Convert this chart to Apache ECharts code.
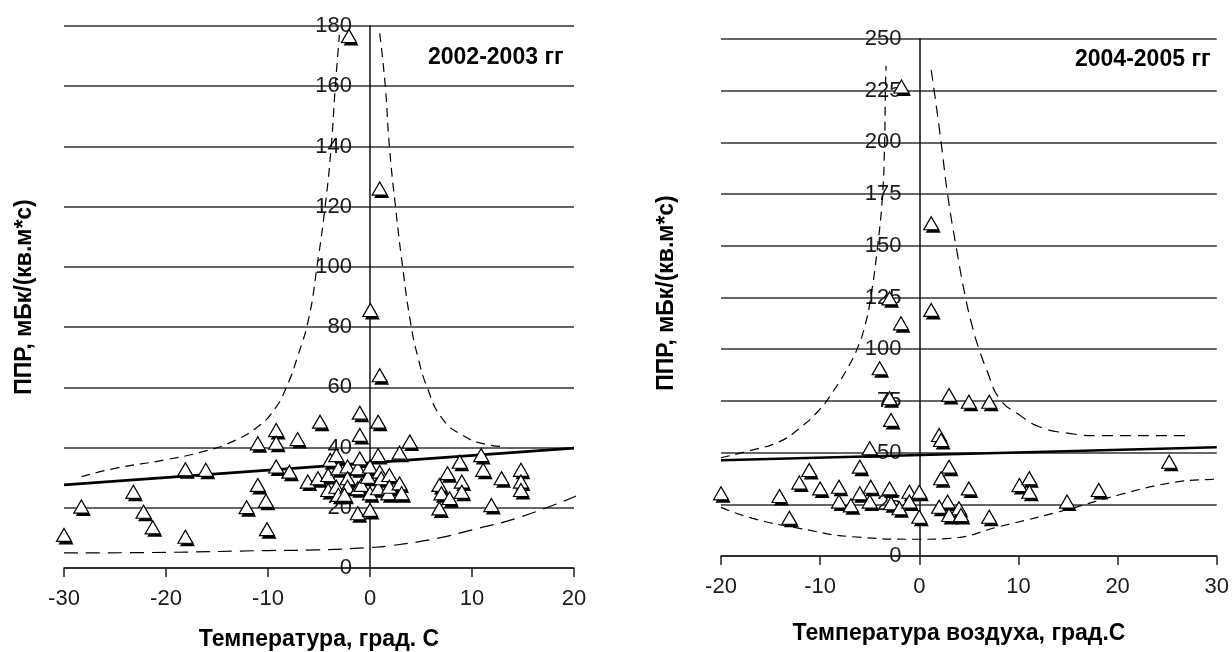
<!DOCTYPE html>
<html>
<head>
<meta charset="utf-8">
<script src="https://cdn.jsdelivr.net/npm/echarts@6/dist/echarts.min.js"></script>
<style>
  html, body { margin: 0; padding: 0; background: #fff; }
  #chart { width: 1232px; height: 652px; }
</style>
</head>
<body>
<div id="chart"></div>
<script>
// ---- 2002-2003: temperature (°C) and radon flux density (mBq/(m2*s)) ----
const temp0203 = [
  -30, -28.3, -23.2, -22.2, -21.3, -18.1, -18.1, -16.1, -12.1, -11, -11, -10.2, -10.1,
  -9.2, -9.2, -9.2, -7.9, -7.1, -6.1, -5.1, -4.9,
  -4.1, -4.1, -3.9, -3.3, -3.1, -3.3, -3.1, -2.2, -2.2, -2.2, -2.5, -2.06,
  -1.2, -1.0, -1.2, -1.2, -1.0, -1.0, -0.85, -0.2, 0, 0, 0, 0.03,
  0.8, 0.8, 0.95, 0.8, 1.1, 0.95, 0.95, 1.8, 1.9, 1.9, 2.9, 2.9, 3.1, 3.9,
  6.8, 6.8, 7.0, 7.6, 7.8, 8.8, 9.0, 9.0, 10.9, 11.1, 11.9, 12.9, 14.8, 14.8, 14.8
];
const ppr0203 = [
  11, 20.4, 25.3, 18.7, 13.5, 10.4, 32.8, 32.6, 20.2, 41.4, 27.6, 22.3, 12.9,
  45.8, 41.6, 33.7, 32, 42.8, 28.7, 29.8, 48.6,
  30.9, 25.9, 35.9, 37.5, 33.1, 27.0, 24.3, 33.7, 29.8, 27.0, 24.3, 176.7,
  33.1, 36.4, 26.5, 18.2, 51.6, 44.2, 27.6, 30.3, 33.7, 24.8, 19.3, 85.7,
  48.6, 37.5, 32, 26.5, 29.8, 64, 126, 24.8, 30.9, 27.0, 28.1, 38.3, 24.8, 42,
  27.6, 19.8, 24.8, 31.5, 23.2, 35.3, 28.7, 25.3, 37.5, 32.6, 20.9, 29.8, 32.6, 28.7, 25.9
];
// regression line and confidence bands, 2002-2003
const trend0203 = [[-30, 27.6], [20, 39.8]];
const bandUpperA0203 = [[-28.3, 30.3], [-25, 33.1], [-20.1, 35.9], [-16.2, 38.8], [-13.6, 41.8],
  [-11, 46.9], [-9.3, 53], [-8.2, 60], [-7.1, 70.2], [-6.0, 83], [-5.2, 100],
  [-4.4, 120], [-3.8, 140], [-3.4, 160], [-3.0, 177]];
const bandUpperB0203 = [[0.95, 177.6], [1.5, 160], [1.9, 140], [2.5, 120], [3.2, 100], [4.0, 81],
  [4.7, 70], [5.6, 60], [7.0, 50], [9.0, 44.2], [11.6, 40.9], [13.2, 40.3]];
const bandLower0203 = [[-30, 5], [-20, 5.2], [-10, 5.8], [-5.1, 6.0], [0, 6.8], [1.8, 7.3],
  [6.7, 9.9], [9.9, 12.6], [14.8, 17], [20.7, 24.6]];

// ---- 2004-2005 ----
const temp0405 = [
  -20.0, -14.1, -13.1, -12.1, -11.1, -10.0, -8.1, -8.1, -6.9, -6.0, -6.0, -5.0, -4.9, -5.0,
  -4.0, -3.0, -3.0, -2.85, -3.0, -2.85, -2.0, -1.85, -1.8, -1.0, -1.0, 0, 0,
  1.2, 1.2, 2.0, 2.2, 3.0, 5.0, 7.05, 3.0, 2.2, 5.0, 10.1, 11.1, 11.1,
  2.85, 2.0, 4.0, 3.0, 4.2, 7.05, 14.9, 18.1, 25.2
];
const ppr0405 = [
  30.3, 29, 18.5, 35.5, 41.6, 32.7, 33.5, 26.3, 24.5, 43.2, 30.3, 52.1, 33.5, 26.3,
  90.8, 124.6, 76.3, 65.8, 32.7, 25.5, 23.1, 112.5, 227, 31.1, 26.3, 31.1, 19,
  160.9, 119, 58.5, 56.1, 77.9, 74.6, 74.6, 43.2, 37.6, 32.7, 34.3, 37.6, 31.1,
  26.3, 23.8, 23.1, 19.8, 19.8, 19, 26.3, 31.9, 45.6
];
const trend0405 = [[-20, 46.3], [30, 52.6]];
const bandUpperA0405 = [[-20, 47.5], [-16.8, 51.3], [-14.1, 55.3], [-12.1, 61.7], [-10.1, 70.6],
  [-8.7, 79.5], [-7.1, 92], [-6.2, 101], [-5.5, 111], [-4.9, 125], [-4.2, 150],
  [-3.7, 175], [-3.5, 200], [-3.42, 225], [-3.35, 237]];
const bandUpperB0405 = [[1.2, 235], [1.5, 225], [2.2, 200], [2.85, 175], [3.7, 150], [4.7, 124],
  [5.4, 110], [6.0, 100.4], [6.8, 90], [8.1, 76], [10.1, 68.2], [12.1, 62.5],
  [15.1, 59.3], [18.1, 58.2], [27.4, 58.2]];
const bandLower0405 = [[-20, 23.5], [-16.8, 18.2], [-12.1, 13.4], [-6.7, 9.3], [0, 8.1], [3.0, 8.5],
  [8.05, 14.2], [14.1, 21.4], [20.1, 29.5], [25.2, 35.2], [29.5, 37.1], [31.4, 37.3]];

// axis ranges and texts
const xRange0203 = { min: -30, max: 20, interval: 10 };
const yRange0203 = { min: 0, max: 180, interval: 20 };
const xRange0405 = { min: -20, max: 30, interval: 10 };
const yRange0405 = { min: 0, max: 250, interval: 25 };
const yTitle = 'ППР, мБк/(кв.м*с)';
const xTitle0203 = 'Температура, град. С';
const xTitle0405 = 'Температура воздуха, град.С';
const period0203 = '2002-2003 гг';
const period0405 = '2004-2005 гг';

const zip = (a, b) => a.map((v, i) => [v, b[i]]);

const grids = [
  { left: 64, top: 26, width: 510, height: 542 },
  { left: 721, top: 39, width: 496, height: 517 }
];

const tickFont = { fontFamily: 'Liberation Sans', fontSize: 22, color: '#1a1a1a' };

function xAxisFor(idx, r) {
  return {
    type: 'value', gridIndex: idx, min: r.min, max: r.max, interval: r.interval,
    axisLine: { show: true, onZero: false, lineStyle: { color: '#222', width: 1.5 } },
    axisTick: { show: true, length: 9, lineStyle: { color: '#222', width: 1.5 } },
    axisLabel: Object.assign({ margin: 20 }, tickFont),
    splitLine: { show: false }
  };
}
// the vertical axis crosses the horizontal one at 0 °C, labels travel with it
function yAxisFor(idx, r, xr) {
  const shift = grids[idx].width * (0 - xr.min) / (xr.max - xr.min);
  return {
    type: 'value', gridIndex: idx, min: r.min, max: r.max, interval: r.interval,
    position: 'left', offset: -shift,
    axisLine: { show: true, onZero: false, lineStyle: { color: '#111', width: 1.5 } },
    axisTick: { show: false },
    axisLabel: Object.assign({ margin: 18 }, tickFont),
    splitLine: { show: true, lineStyle: { color: '#333', width: 1.5 } }
  };
}

// triangle markers: black offset copy underneath, white outlined triangle on top
function pointsSeries(idx, data) {
  return [
    {
      type: 'scatter', xAxisIndex: idx, yAxisIndex: idx, data: data,
      symbol: 'triangle', symbolSize: [15, 13], symbolOffset: [2, 3],
      itemStyle: { color: '#000', opacity: 1 }, z: 5, silent: true
    },
    {
      type: 'scatter', xAxisIndex: idx, yAxisIndex: idx, data: data,
      symbol: 'triangle', symbolSize: [15, 13],
      itemStyle: { color: '#fff', borderColor: '#000', borderWidth: 1.2, opacity: 1 }, z: 6, silent: true
    }
  ];
}
function lineSeries(idx, data, dash, width) {
  return {
    type: 'line', xAxisIndex: idx, yAxisIndex: idx, data: data, showSymbol: false,
    smooth: dash ? 0.5 : false, clip: false, z: 3, silent: true,
    lineStyle: { color: '#000', width: width, type: dash || 'solid' }
  };
}

const chart = echarts.init(document.getElementById('chart'), null, { renderer: 'canvas' });
const titleFont = 'bold 23px "Liberation Sans"';

chart.setOption({
  animation: false,
  backgroundColor: '#fff',
  grid: grids,
  xAxis: [xAxisFor(0, xRange0203), xAxisFor(1, xRange0405)],
  yAxis: [yAxisFor(0, yRange0203, xRange0203), yAxisFor(1, yRange0405, xRange0405)],
  series: [].concat(
    lineSeries(0, bandUpperA0203, [9, 6], 1.2),
    lineSeries(0, bandUpperB0203, [9, 6], 1.2),
    lineSeries(0, bandLower0203, [14, 8], 1.2),
    lineSeries(0, trend0203, null, 2.6),
    pointsSeries(0, zip(temp0203, ppr0203)),
    lineSeries(1, bandUpperA0405, [9, 6], 1.2),
    lineSeries(1, bandUpperB0405, [11, 7], 1.2),
    lineSeries(1, bandLower0405, [9, 6], 1.2),
    lineSeries(1, trend0405, null, 2.6),
    pointsSeries(1, zip(temp0405, ppr0405))
  ),
  graphic: [
    { type: 'text', left: 428, top: 46, style: { text: period0203, font: 'bold 23px "Liberation Sans"', fill: '#000' } },
    { type: 'text', left: 1075, top: 48, style: { text: period0405, font: 'bold 23px "Liberation Sans"', fill: '#000' } },
    { type: 'text', x: 319, y: 640, style: { text: xTitle0203, font: titleFont, fill: '#000', align: 'center', verticalAlign: 'middle' } },
    { type: 'text', x: 959, y: 634, style: { text: xTitle0405, font: titleFont, fill: '#000', align: 'center', verticalAlign: 'middle' } },
    { type: 'text', x: 25, y: 297, rotation: Math.PI / 2, style: { text: yTitle, font: titleFont, fill: '#000', align: 'center', verticalAlign: 'middle' } },
    { type: 'text', x: 667, y: 293, rotation: Math.PI / 2, style: { text: yTitle, font: titleFont, fill: '#000', align: 'center', verticalAlign: 'middle' } }
  ]
});
</script>
</body>
</html>
